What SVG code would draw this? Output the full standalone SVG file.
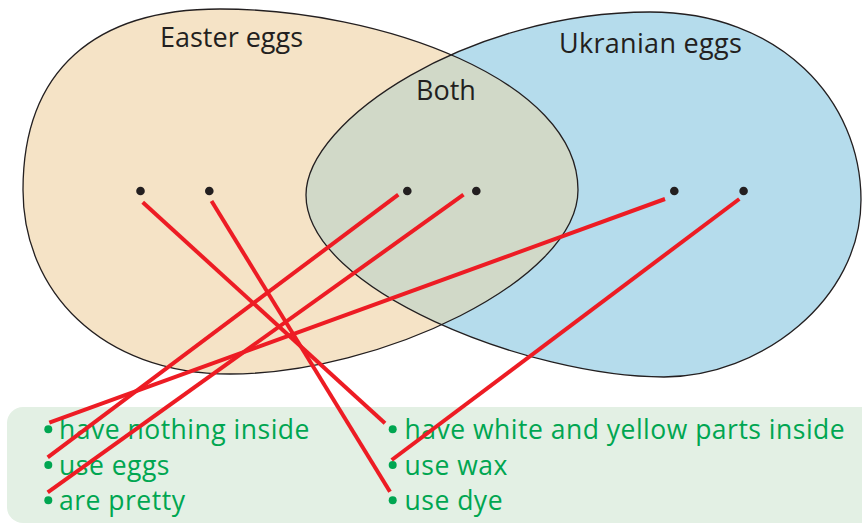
<svg xmlns="http://www.w3.org/2000/svg" width="862" height="524" viewBox="0 0 862 524">
  <style>
    .title { font-family: "Open Sans", "Noto Sans", sans-serif; font-size: 27px; fill: #231F20; }
    .title-wide { letter-spacing: 0.3px; }
    .item { font-family: "Open Sans", "Noto Sans", sans-serif; font-size: 26.5px; fill: #00A651; letter-spacing: 0.5px; }
    .outline { fill: none; stroke: #231F20; stroke-width: 1.3; }
    .dot { fill: #231F20; }
    .bullet { fill: #00A651; }
    .link { stroke: #ED1C24; stroke-width: 4; fill: none; }
  </style>
  <defs>
    <path id="easterShape" d="M220,9 C380,9 578,80 578,190 C578,280 380,374 230,374 C100,374 23,290 23,190 C23,70 95,9 220,9 Z"/>
    <path id="ukrShape" d="M650,12 C780,12 861,100 861,200 C861,300 760,377 664,377 C530,377 306,290 306,195 C306,120 470,12 650,12 Z"/>
    <clipPath id="easterClip"><use href="#easterShape"/></clipPath>
  </defs>

  <g id="easter-eggs">
    <use href="#easterShape" fill="#F5E3C6"/>
  </g>
  <g id="ukranian-eggs">
    <use href="#ukrShape" fill="#B5DCEC"/>
  </g>
  <g id="both">
    <use href="#ukrShape" fill="#D1D9C8" clip-path="url(#easterClip)"/>
  </g>
  <g id="outlines">
    <use href="#easterShape" class="outline"/>
    <use href="#ukrShape" class="outline"/>
  </g>

  <g id="region-labels">
    <text class="title" x="160" y="47">Easter eggs</text>
    <text class="title title-wide" x="559" y="53">Ukranian eggs</text>
    <text class="title" x="416" y="100">Both</text>
  </g>

  <g id="points">
    <circle id="p1" class="dot" cx="140.5" cy="191" r="4.3"/>
    <circle id="p2" class="dot" cx="209.3" cy="191" r="4.3"/>
    <circle id="p3" class="dot" cx="407.3" cy="191" r="4.3"/>
    <circle id="p4" class="dot" cx="476.3" cy="191" r="4.3"/>
    <circle id="p5" class="dot" cx="674.3" cy="191" r="4.3"/>
    <circle id="p6" class="dot" cx="743.6" cy="191" r="4.3"/>
  </g>

  <g id="panel">
    <rect x="7" y="407" width="880" height="116" rx="16" fill="#E3F0E4"/>
  </g>

  <g id="item-have-nothing-inside">
    <circle class="bullet" cx="48.3" cy="429.3" r="4"/>
    <text class="item" x="59" y="438.7">have nothing inside</text>
  </g>
  <g id="item-use-eggs">
    <circle class="bullet" cx="48.3" cy="465" r="4"/>
    <text class="item" x="59" y="475.3">use eggs</text>
  </g>
  <g id="item-are-pretty">
    <circle class="bullet" cx="48.3" cy="500.3" r="4"/>
    <text class="item" x="59" y="510">are pretty</text>
  </g>
  <g id="item-have-white-and-yellow">
    <circle class="bullet" cx="392.7" cy="429.3" r="4"/>
    <text class="item" x="404.5" y="438.7">have white and yellow parts inside</text>
  </g>
  <g id="item-use-wax">
    <circle class="bullet" cx="392.7" cy="465" r="4"/>
    <text class="item" x="404.5" y="475.3">use wax</text>
  </g>
  <g id="item-use-dye">
    <circle class="bullet" cx="392.7" cy="500.3" r="4"/>
    <text class="item" x="404.5" y="510">use dye</text>
  </g>

  <g id="connectors">
    <line class="link" x1="142.7" y1="202.3" x2="385" y2="423.3"/>
    <line class="link" x1="211.5" y1="201" x2="390" y2="491.7"/>
    <line class="link" x1="398.3" y1="194.7" x2="47.7" y2="457.3"/>
    <line class="link" x1="463.5" y1="194.7" x2="47.7" y2="492.3"/>
    <line class="link" x1="665" y1="199" x2="49.3" y2="422.7"/>
    <line class="link" x1="739.3" y1="199" x2="391.7" y2="460"/>
  </g>
</svg>
